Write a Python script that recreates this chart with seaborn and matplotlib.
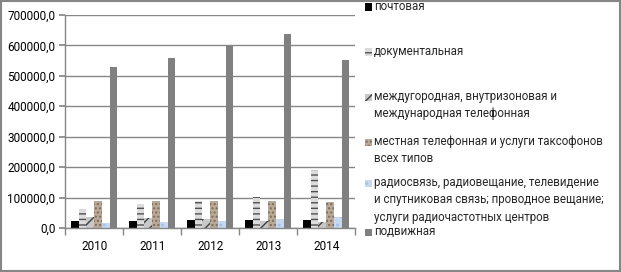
import pandas as pd
import matplotlib.pyplot as plt
import seaborn as sns
from matplotlib.patches import Rectangle
from matplotlib.ticker import FuncFormatter

years = ['2010', '2011', '2012', '2013', '2014']
services = [
    'почтовая',
    'документальная',
    'междугородная, внутризоновая и\nмеждународная телефонная',
    'местная телефонная и услуги таксофонов\nвсех типов',
    'радиосвязь, радиовещание, телевидение\nи спутниковая связь; проводное вещание;\nуслуги радиочастотных центров',
    'подвижная',
]
postal = [22000, 24000, 25000, 26000, 26000]
documental = [61000, 78000, 87000, 101000, 192000]
longdist = [35000, 32000, 28000, 24000, 21000]
local = [88000, 90000, 90000, 90000, 84000]
radio = [16000, 18000, 22000, 28000, 36000]
mobile = [529000, 559000, 597000, 636000, 552000]

series = [postal, documental, longdist, local, radio, mobile]
rows = []
for name, vals in zip(services, series):
    for y, v in zip(years, vals):
        rows.append({'year': y, 'service': name, 'value': v})
df = pd.DataFrame(rows)

# face colour, hatch, hatch colour
styles = [
    ('#000000', None, '#000000'),
    ('#dcdcdc', '---', '#505050'),
    ('#c8c8c8', '///', '#404040'),
    ('#b9a999', '....', '#7d6b5b'),
    ('#c6d9f1', '..', '#a8c2ea'),
    ('#808080', None, '#808080'),
]

sns.set_theme(style='white')
plt.rcParams['font.family'] = ['Roboto', 'DejaVu Sans']
plt.rcParams['hatch.linewidth'] = 1.0

fig = plt.figure(figsize=(6.21, 2.72), dpi=100)
ax = fig.add_axes([0.105, 0.162, 0.467, 0.783])

sns.barplot(data=df, x='year', y='value', hue='service', hue_order=services,
            order=years, width=0.8, ax=ax, legend=False, errorbar=None)

for cont, (fc, h, hc) in zip(ax.containers, styles):
    for bar in cont:
        bar.set_facecolor(fc)
        bar.set_edgecolor(hc)
        bar.set_linewidth(0)
        if h:
            bar.set_hatch(h)

ax.set_ylim(0, 700000)
ax.set_xlim(-0.5, 4.5)
ax.yaxis.set_major_formatter(FuncFormatter(lambda v, p: f'{v:.1f}'.replace('.', ',')))
ax.set_yticks(range(0, 700001, 100000))
ax.grid(axis='y', color='#868686', linewidth=1)
ax.set_axisbelow(True)
ax.set_xlabel('')
ax.set_ylabel('')
for s in ['top', 'right']:
    ax.spines[s].set_visible(False)
for s in ['left', 'bottom']:
    ax.spines[s].set_color('#868686')
    ax.spines[s].set_linewidth(1)

ax.set_xticks([i - 0.5 for i in range(6)], minor=True)
ax.tick_params(axis='x', which='minor', length=5, color='#868686', bottom=True)
ax.tick_params(axis='x', which='major', length=0, labelsize=8.5, pad=9, colors='#000000')
ax.tick_params(axis='y', which='major', left=True, length=4, color='#868686',
               labelsize=8.5, pad=3, colors='#000000')

# legend drawn on the figure
leg_y = [7, 52, 97, 142, 183, 232]
for (fc, h, hc), label, y in zip(styles, services, leg_y):
    r = Rectangle((365 / 621, 1 - (y + 3.5) / 272), 7 / 621, 7 / 272,
                  transform=fig.transFigure, facecolor=fc, edgecolor=hc,
                  linewidth=0, hatch=h)
    fig.patches.append(r)
    fig.text(374 / 621, 1 - (y - 7) / 272, label, fontsize=8.3, va='top',
             ha='left', linespacing=1.45)

fig.patches.append(Rectangle((0.001, 0.002), 0.997, 0.995, transform=fig.transFigure,
                             fill=False, edgecolor='#868686', linewidth=1.5))

fig.savefig('out.png', dpi=100)
